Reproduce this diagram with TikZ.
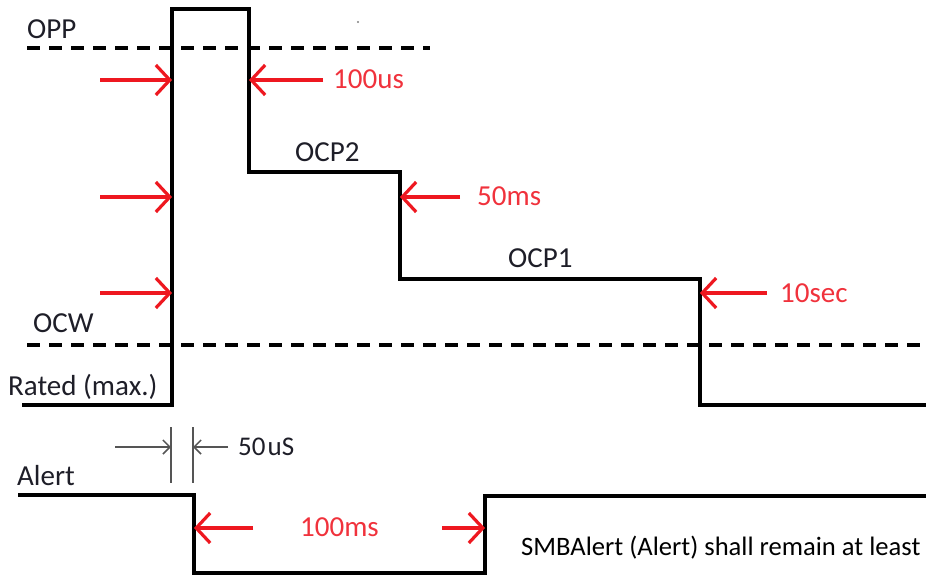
\documentclass[tikz,border=0pt]{standalone}
\usepackage{fontspec}
\setmainfont{Carlito}
\usetikzlibrary{arrows.meta}
\definecolor{arrred}{RGB}{238,24,32}
\definecolor{txtred}{RGB}{240,50,60}
\definecolor{txtblk}{RGB}{30,30,40}
\definecolor{dimgray}{RGB}{85,85,85}
\tikzset{
  wave/.style={line width=3.4pt, line join=miter, black},
  thr/.style={line width=3.8pt, black, dash pattern=on 13pt off 9pt},
  redarr/.style={line width=3.4pt, arrred, -{Straight Barb[length=14pt,width=30pt,line width=3.2pt]}},
  dimarr/.style={line width=1.5pt, dimgray, -{Straight Barb[length=7pt,width=14pt,line width=1.5pt]}},
  dimline/.style={line width=1.5pt, dimgray},
  lbl/.style={anchor=base west, inner sep=0pt, text=txtblk, font=\fontsize{29}{32}\selectfont},
  rlbl/.style={anchor=base west, inner sep=0pt, text=txtred, font=\fontsize{29}{32}\selectfont},
}
\begin{document}
\begin{tikzpicture}[x=1pt,y=-1pt]
\useasboundingbox (0,0) rectangle (926,575);
% waveform corners
\coordinate (w0) at (22,405);
\coordinate (w1) at (172,405);
\coordinate (w2) at (172,9);
\coordinate (w3) at (249,9);
\coordinate (w4) at (249,172);
\coordinate (w5) at (400,172);
\coordinate (w6) at (400,279);
\coordinate (w7) at (700,279);
\coordinate (w8) at (700,405);
\coordinate (w9) at (926,405);
% thresholds
\coordinate (oppL) at (27,48);
\coordinate (oppR) at (430,48);
\coordinate (ocwL) at (27,345);
\coordinate (ocwR) at (926,345);
\draw[thr] (oppL) -- (oppR);
\draw[thr] (ocwL) -- (ocwR);
\draw[wave] (w0) -- (w1) -- (w2) -- (w3) -- (w4) -- (w5) -- (w6) -- (w7) -- (w8) -- (w9);
% alert waveform
\coordinate (a0) at (18,495);
\coordinate (a1) at (194,495);
\coordinate (a2) at (194,573);
\coordinate (a3) at (485,573);
\coordinate (a4) at (485,496);
\coordinate (a5) at (926,496);
\draw[wave] (a0) -- (a1) -- (a2) -- (a3) -- (a4) -- (a5);
% red arrows
\coordinate (t1) at (100,80);  \coordinate (h1) at (172,80);
\coordinate (t2) at (100,197); \coordinate (h2) at (172,197);
\coordinate (t3) at (100,293); \coordinate (h3) at (172,293);
\coordinate (t4) at (323,80);  \coordinate (h4) at (249,80);
\coordinate (t5) at (460,197); \coordinate (h5) at (400,197);
\coordinate (t6) at (767,293); \coordinate (h6) at (700,293);
\coordinate (t7) at (253,528); \coordinate (h7) at (194,528);
\coordinate (t8) at (442,528); \coordinate (h8) at (485,528);
\foreach \i in {1,...,8} {\draw[redarr] (t\i) -- (h\i);}
% 50uS dimension
\coordinate (d1a) at (171,427); \coordinate (d1b) at (171,483);
\coordinate (d2a) at (193,427); \coordinate (d2b) at (193,483);
\coordinate (dt1) at (115,447); \coordinate (dh1) at (171,447);
\coordinate (dt2) at (228,447); \coordinate (dh2) at (193,447);
\draw[dimline] (d1a) -- (d1b);
\draw[dimline] (d2a) -- (d2b);
\draw[dimarr] (dt1) -- (dh1);
\draw[dimarr] (dt2) -- (dh2);
% speck
\fill[gray] (358,22) circle (1.1);
% labels
\node[lbl] (opp) at (27,39) {OPP};
\node[lbl] (ocp2) at (295,161) {OCP2};
\node[lbl] (ocp1) at (508,267) {OCP1};
\node[lbl] (ocw) at (33,332) {OCW};
\node[lbl] (rated) at (8,395) {Rated (max.)};
\node[lbl, font=\fontsize{27}{30}\selectfont] (fifty) at (238,455) {50\kern2pt uS};
\node[lbl] (alert) at (17,485) {Alert};
\node[rlbl] (l100us) at (333,89) {100us};
\node[rlbl] (l50ms) at (477,205) {50ms};
\node[rlbl] (l10sec) at (780,302) {10sec};
\node[rlbl] (l100ms) at (300,536) {100ms};
\node[lbl, text=black, font=\fontsize{26.6}{30}\selectfont] (smb) at (521,555) {SMBAlert (Alert) shall remain at least};
\end{tikzpicture}
\end{document}
